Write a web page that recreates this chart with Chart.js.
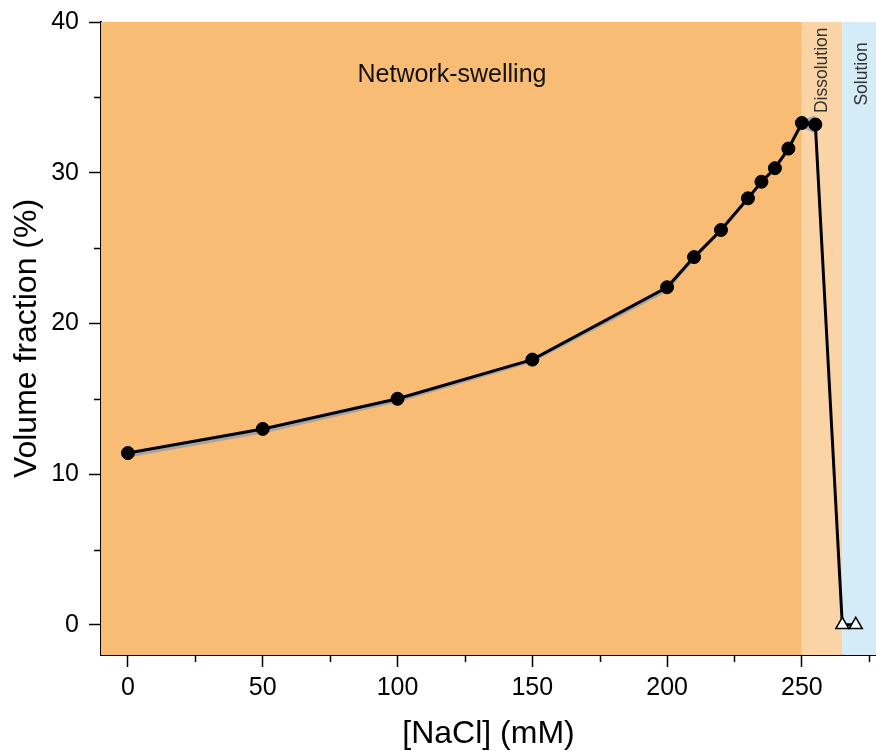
<!DOCTYPE html>
<html>
<head>
<meta charset="utf-8">
<script src="https://cdn.jsdelivr.net/npm/chart.js@4"></script>
<style>
  html, body { margin: 0; padding: 0; background: #fff; }
  canvas { display: block; }
</style>
</head>
<body>
<canvas id="c" width="876" height="751"></canvas>
<script>
// ---- data ----
const nacl = [0, 50, 100, 150, 200, 210, 220, 230, 235, 240, 245, 250, 255, 265, 270];
const volumeFraction = [11.4, 13.0, 15.0, 17.6, 22.4, 24.4, 26.2, 28.3, 29.4, 30.3, 31.6, 33.3, 33.2, 0, 0];
const pointState = ['gel','gel','gel','gel','gel','gel','gel','gel','gel','gel','gel','gel','gel','dissolved','dissolved'];
const bandX = [0, 50, 100, 150, 200, 210, 220, 230, 235, 240, 245, 250, 255];
const bandUpper = [11.45, 13.05, 15.05, 17.6, 22.45, 24.45, 26.25, 28.35, 29.45, 30.35, 31.7, 33.5, 33.8];
const bandLower = [11.1, 12.7, 14.75, 17.4, 22.1, 24.2, 26.0, 28.1, 29.2, 30.1, 31.45, 33.0, 32.6];
const regionNames = ['Network-swelling', 'Dissolution', 'Solution'];
const regionStart = [-10, 250, 265];
const regionEnd = [250, 265, 277.5];
const xMajorTicks = [0, 50, 100, 150, 200, 250];
const xMinorTicks = [25, 75, 125, 175, 225, 275];
const yMajorTicks = [0, 10, 20, 30, 40];
const yMinorTicks = [5, 15, 25, 35];

// ---- styles ----
const regionColors = ['#F8BC74', '#FBD4A6', '#D4EBF8'];
const FONT = "'Liberation Sans', Arial, Helvetica, sans-serif";
const labelSpots = [
  {x: 120.2, y: 36.5, rotate: false, size: 25},
  {x: 257.4, y: 36.8, rotate: true, size: 17.5},
  {x: 272.2, y: 36.55, rotate: true, size: 17.5}
];

const regionPlugin = {
  id: 'regions',
  beforeDatasetsDraw(chart) {
    const {ctx, chartArea: a, scales: {x, y}} = chart;
    ctx.save();
    for (let i = 0; i < regionNames.length; i++) {
      const x0 = Math.max(a.left, x.getPixelForValue(regionStart[i]));
      const x1 = Math.min(a.right, x.getPixelForValue(regionEnd[i]));
      ctx.fillStyle = regionColors[i];
      ctx.fillRect(x0, a.top, x1 - x0, a.bottom - a.top);
    }
    for (let i = 0; i < regionNames.length; i++) {
      const s = labelSpots[i];
      const px = x.getPixelForValue(s.x), py = y.getPixelForValue(s.y);
      ctx.save();
      ctx.translate(px, py);
      if (s.rotate) ctx.rotate(-Math.PI / 2);
      ctx.font = s.size + 'px ' + FONT;
      ctx.textAlign = 'center';
      ctx.textBaseline = 'middle';
      ctx.fillStyle = s.rotate ? '#333' : '#111';
      ctx.fillText(regionNames[i], 0, 0);
      ctx.restore();
    }
    ctx.restore();
  },
  afterDraw(chart) {
    const {ctx, chartArea: a, scales: {x, y}} = chart;
    ctx.save();
    ctx.strokeStyle = '#000';
    ctx.lineWidth = 1.5;
    ctx.beginPath();
    xMinorTicks.forEach(v => {
      const px = Math.round(x.getPixelForValue(v)) + 0.5;
      ctx.moveTo(px, a.bottom);
      ctx.lineTo(px, a.bottom + 7);
    });
    yMinorTicks.forEach(v => {
      const py = Math.round(y.getPixelForValue(v)) + 0.5;
      ctx.moveTo(a.left, py);
      ctx.lineTo(a.left - 7, py);
    });
    ctx.stroke();
    ctx.restore();
  }
};

new Chart(document.getElementById('c'), {
  type: 'line',
  data: {
    datasets: [
      {
        data: nacl.map((v, i) => ({x: v, y: volumeFraction[i]})),
        borderColor: '#000',
        borderWidth: 3,
        tension: 0,
        pointStyle: pointState.map(s => s === 'gel' ? 'circle' : 'triangle'),
        pointRadius: pointState.map(s => s === 'gel' ? 6.5 : 7.5),
        pointBackgroundColor: pointState.map(s => s === 'gel' ? '#000' : '#fff'),
        pointBorderColor: '#000',
        pointBorderWidth: pointState.map(s => s === 'gel' ? 1 : 1.5),
        fill: false
      },
      {
        data: bandX.map((v, i) => ({x: v, y: bandUpper[i]})),
        borderWidth: 0,
        pointRadius: 0,
        backgroundColor: 'rgba(150,158,172,0.8)',
        fill: '+1'
      },
      {
        data: bandX.map((v, i) => ({x: v, y: bandLower[i]})),
        borderWidth: 0,
        pointRadius: 0,
        fill: false
      }
    ]
  },
  options: {
    responsive: false,
    animation: false,
    layout: {autoPadding: false, padding: {top: 22, right: 0, left: 0, bottom: 0}},
    plugins: {legend: {display: false}, tooltip: {enabled: false}},
    scales: {
      x: {
        type: 'linear',
        min: -10,
        max: 277.5,
        afterBuildTicks: s => { s.ticks = xMajorTicks.map(v => ({value: v})); },
        afterFit: s => { s.height = 96; s.paddingRight = 0; s.paddingLeft = 0; },
        grid: {drawOnChartArea: false, drawTicks: true, tickLength: 12, tickColor: '#000', tickWidth: 1.5},
        border: {color: '#000', width: 2},
        ticks: {color: '#000', padding: 6, font: {family: FONT, size: 25}, maxRotation: 0},
        title: {display: true, text: '[NaCl] (mM)', color: '#000', font: {family: FONT, size: 32, lineHeight: 1}, padding: {bottom: 1, top: 0}}
      },
      y: {
        type: 'linear',
        min: -2,
        max: 40,
        afterBuildTicks: s => { s.ticks = yMajorTicks.map(v => ({value: v})); },
        afterFit: s => { s.width = 101; s.paddingTop = 0; s.paddingBottom = 0; },
        grid: {drawOnChartArea: false, drawTicks: true, tickLength: 12, tickColor: '#000', tickWidth: 1.5},
        border: {color: '#000', width: 2},
        ticks: {color: '#000', padding: 10, font: {family: FONT, size: 25}},
        title: {display: true, text: 'Volume fraction (%)', color: '#000', font: {family: FONT, size: 32, lineHeight: 1}, padding: {top: 11, bottom: 0}}
      }
    }
  },
  plugins: [regionPlugin]
});
</script>
</body>
</html>
